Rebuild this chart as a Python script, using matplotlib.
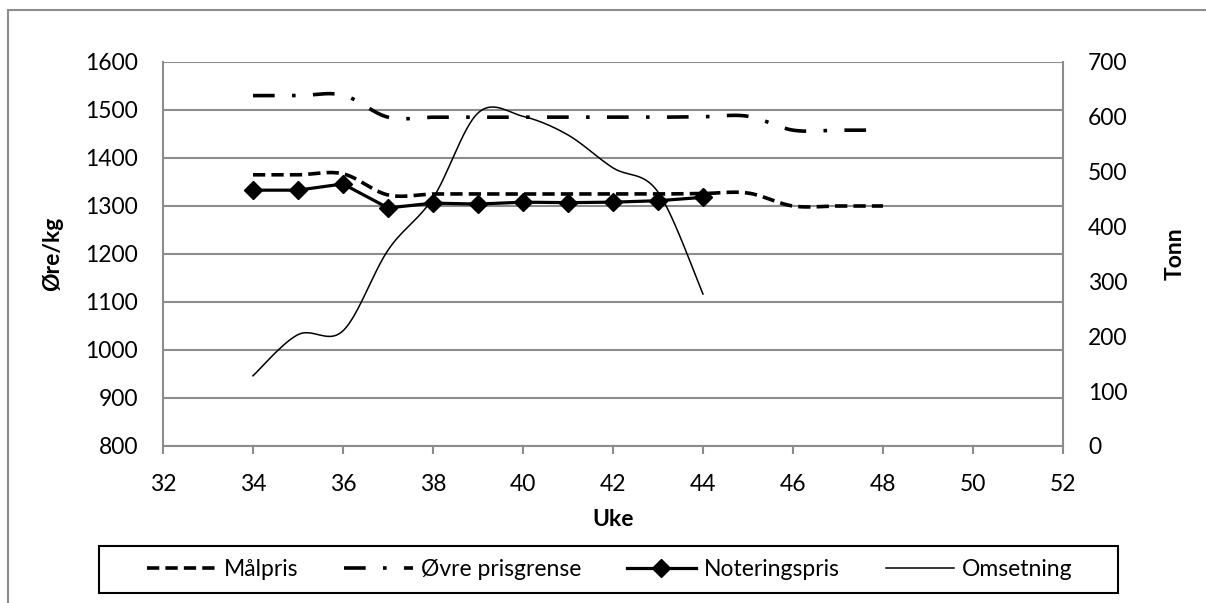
import numpy as np
import matplotlib.pyplot as plt
from matplotlib.lines import Line2D
from matplotlib.patches import Rectangle

plt.rcParams['font.family'] = ['Lato', 'DejaVu Sans']

# data
uker = [34, 35, 36, 37, 38, 39, 40, 41, 42, 43, 44, 45, 46, 47, 48]
malpris = [1365, 1365, 1367, 1323, 1325, 1325, 1325, 1325, 1325, 1325, 1326, 1327, 1300, 1300, 1300]
ovre = [1530, 1530, 1531, 1485, 1485, 1485, 1485, 1485, 1485, 1485, 1486, 1487, 1458, 1458, 1458]

uker_not = [34, 35, 36, 37, 38, 39, 40, 41, 42, 43, 44]
notering = [1333, 1333, 1346, 1296, 1306, 1304, 1308, 1307, 1308, 1311, 1318]
omsetning = [128, 203, 210, 357, 452, 607, 601, 567, 507, 463, 277]

GRID = '#8c8c8c'
FS = 16.5


def smooth(x, y, n=30):
    # excel-like smoothed line (catmull-rom bezier)
    x = np.asarray(x, float)
    y = np.asarray(y, float)
    px = np.concatenate([[x[0]], x, [x[-1]]])
    py = np.concatenate([[y[0]], y, [y[-1]]])
    xs, ys = [], []
    t = np.linspace(0, 1, n)
    for i in range(1, len(px) - 2):
        p0 = np.array([px[i], py[i]])
        p3 = np.array([px[i + 1], py[i + 1]])
        p1 = p0 + (np.array([px[i + 1], py[i + 1]]) - np.array([px[i - 1], py[i - 1]])) / 6
        p2 = p3 - (np.array([px[i + 2], py[i + 2]]) - np.array([px[i], py[i]])) / 6
        b = ((1 - t) ** 3)[:, None] * p0 + (3 * (1 - t) ** 2 * t)[:, None] * p1 \
            + (3 * (1 - t) * t ** 2)[:, None] * p2 + (t ** 3)[:, None] * p3
        xs.extend(b[:, 0])
        ys.extend(b[:, 1])
    return xs, ys


fig = plt.figure(figsize=(12.06, 6.03), dpi=100)
ax = fig.add_axes([163 / 1206, 157 / 603, 900 / 1206, 384 / 603])
ax2 = ax.twinx()

ax.set_xlim(32, 52)
ax.set_ylim(800, 1600)
ax.set_xticks(range(32, 53, 2))
ax.set_yticks(range(800, 1601, 100))
ax2.set_ylim(0, 700)
ax2.set_yticks(range(0, 701, 100))

ax.grid(axis='y', color=GRID, linewidth=1.5)
ax.set_axisbelow(True)

mx, my = smooth(uker, malpris)
ln1, = ax.plot(mx, my, color='black', linewidth=2.6)
ln1.set_dashes([3.4, 1.7])

ox, oy = smooth(uker, ovre)
ln2, = ax.plot(ox, oy, color='black', linewidth=2.6)
ln2.set_dashes([6.0, 4.8, 1.0, 4.8])

ax.plot(uker_not, notering, color='black', linewidth=2.3, marker='D', markersize=9.5)

sx, sy = smooth(uker_not, omsetning)
ax2.plot(sx, sy, color='black', linewidth=1.1)

for a in (ax, ax2):
    for s in a.spines.values():
        s.set_visible(False)
ax.spines['left'].set_visible(True)
ax.spines['left'].set_color(GRID)
ax.spines['left'].set_linewidth(1.5)
ax.spines['bottom'].set_visible(True)
ax.spines['bottom'].set_color(GRID)
ax.spines['bottom'].set_linewidth(1.5)
ax2.spines['right'].set_visible(True)
ax2.spines['right'].set_color(GRID)
ax2.spines['right'].set_linewidth(1.5)

ax.tick_params(axis='x', length=6, width=1.5, color=GRID, labelsize=FS, pad=14)
ax.tick_params(axis='y', length=0, labelsize=FS, pad=18)
ax2.tick_params(axis='y', length=0, labelsize=FS, pad=18)

ax.set_xlabel('Uke', fontsize=FS, fontweight='bold', labelpad=10)
ax.set_ylabel('Øre/kg', fontsize=FS, fontweight='bold', labelpad=16)
ax2.set_ylabel('Tonn', fontsize=FS, fontweight='bold', labelpad=27)

# chart border
fig.patches.append(Rectangle((8 / 1206, -0.1), 1.2, (593 / 603) + 0.1, transform=fig.transFigure,
                             fill=False, edgecolor=GRID, linewidth=1.5))
# legend box
fig.patches.append(Rectangle((99 / 1206, 10 / 603), 1019 / 1206, 47 / 603, transform=fig.transFigure,
                             fill=False, edgecolor='black', linewidth=1.5))

h1 = Line2D([], [], color='black', linewidth=2.6, dashes=[3.4, 1.7])
h2 = Line2D([], [], color='black', linewidth=2.6, dashes=[6.0, 4.8, 1.0, 4.8])
h3 = Line2D([], [], color='black', linewidth=2.3, marker='D', markersize=9.5)
h4 = Line2D([], [], color='black', linewidth=1.1)
leg = fig.legend([h1, h2, h3, h4], ['Målpris', 'Øvre prisgrense', 'Noteringspris', 'Omsetning'],
                 loc='center', bbox_to_anchor=(610 / 1206, 33.5 / 603),
                 ncol=4, fontsize=FS, frameon=False,
                 handlelength=3.0, columnspacing=2.0, handletextpad=0.35, borderaxespad=0,
                 borderpad=0)

fig.savefig('out.png', dpi=100)
